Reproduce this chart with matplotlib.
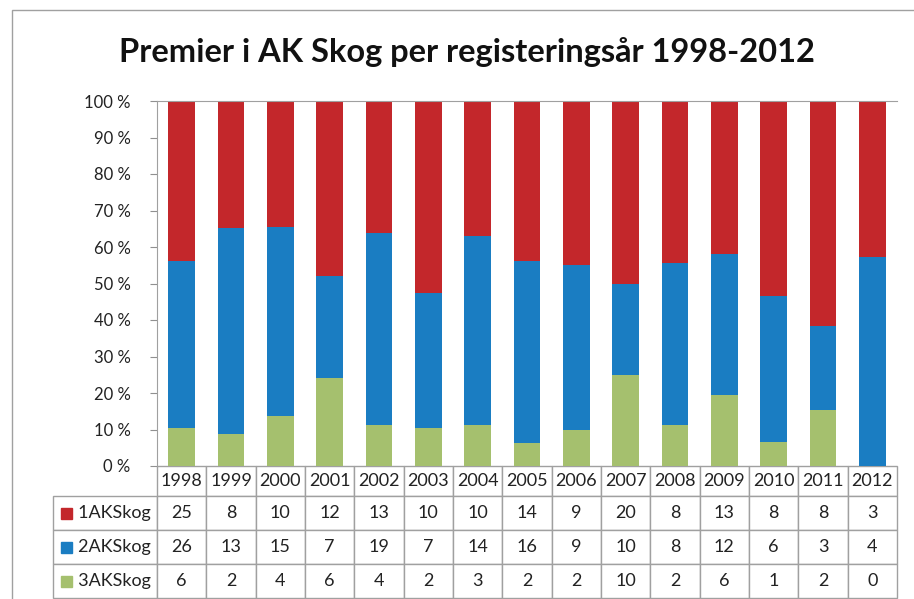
import matplotlib.pyplot as plt
from matplotlib.patches import Rectangle
import numpy as np

years = ["1998", "1999", "2000", "2001", "2002", "2003", "2004", "2005",
         "2006", "2007", "2008", "2009", "2010", "2011", "2012"]
ak1 = [25, 8, 10, 12, 13, 10, 10, 14, 9, 20, 8, 13, 8, 8, 3]
ak2 = [26, 13, 15, 7, 19, 7, 14, 16, 9, 10, 8, 12, 6, 3, 4]
ak3 = [6, 2, 4, 6, 4, 2, 3, 2, 2, 10, 2, 6, 1, 2, 0]
series_names = ["1AKSkog", "2AKSkog", "3AKSkog"]
colors = ["#C3272B", "#1A7DC2", "#A5C06E"]

plt.rcParams['font.family'] = ['Lato', 'DejaVu Sans']

fig = plt.figure(figsize=(9.14, 5.99), dpi=100)
W, H = 914, 599
ax = fig.add_axes([157 / W, 1 - 466 / H, 740 / W, 365 / H])

# outer chart border
fig.patches.append(Rectangle((12 / W, -0.1), 1.2, 1 - 10 / H + 0.1,
                             transform=fig.transFigure, fill=False,
                             edgecolor="#a0a0a0", linewidth=1))

a1, a2, a3 = np.array(ak1), np.array(ak2), np.array(ak3)
tot = a1 + a2 + a3
p3 = a3 / tot * 100
p2 = a2 / tot * 100
p1 = a1 / tot * 100
x = np.arange(len(years))
bw = 0.54
ax.bar(x, p3, bw, color=colors[2])
ax.bar(x, p2, bw, bottom=p3, color=colors[1])
ax.bar(x, p1, bw, bottom=p3 + p2, color=colors[0])

ax.set_xlim(-0.5, len(years) - 0.5)
ax.set_ylim(0, 100)
ax.set_yticks(range(0, 101, 10))
ax.set_yticklabels([f"{v} %" for v in range(0, 101, 10)], fontsize=12, color="#222222")
ax.set_xticks([])
ax.tick_params(axis="y", length=5, color="#909090", pad=14)
for s in ["right", "bottom"]:
    ax.spines[s].set_visible(False)
for s in ["left", "top"]:
    ax.spines[s].set_color("#a0a0a0")

# data table: first column holds the series names, first row the years
rows = [[""] + years]
for name, vals in zip(series_names, [ak1, ak2, ak3]):
    rows.append(["     " + name] + [str(v) for v in vals])
tab = ax.table(cellText=rows, cellLoc="center",
               bbox=[-104 / 740, -132 / 365, 844 / 740, 132 / 365])
tab.auto_set_font_size(False)
tab.set_fontsize(13)
for (r, c), cell in tab.get_celld().items():
    cell.set_edgecolor("#a0a0a0")
    cell.set_linewidth(1)
    cell.set_width(104 if c == 0 else 740 / 15)
    cell.set_height(30 if r == 0 else 34)
    cell.get_text().set_color("#222222")
    cell.PAD = 0.02
    if c == 0:
        cell.get_text().set_horizontalalignment("left")
        cell._loc = "left"
tab[0, 0].visible_edges = ""

# legend keys in row labels
for i, col in enumerate(colors):
    yc = 466 + 30 + 34 * i + 17
    fig.patches.append(Rectangle((61 / W, 1 - (yc + 5.5) / H), 11 / W, 11 / H,
                                 transform=fig.transFigure, color=col))

fig.text(467 / W, 1 - 52 / H, "Premier i AK Skog per registeringsår 1998-2012",
         ha="center", va="center", fontsize=23.5, fontweight="bold", color="#111111")

plt.savefig("out.png", dpi=100)
